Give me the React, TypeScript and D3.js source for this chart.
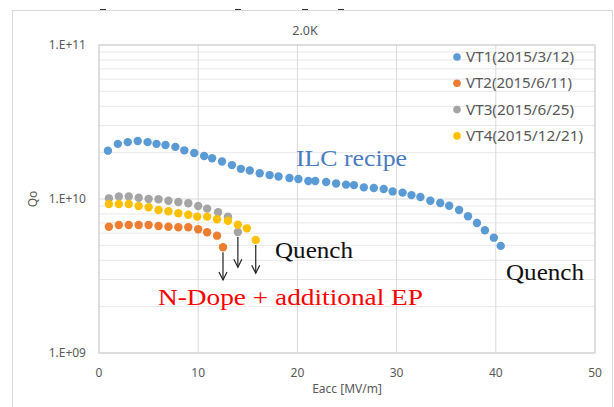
import React from "react";
import * as d3 from "d3";

const W = 614;
const H = 407;

// Eacc [MV/m] and Qo per test
const vt1E = [0.9, 1.9, 2.9, 3.9, 4.9, 5.8, 6.7, 7.7, 8.6, 9.6, 10.6, 11.4, 12.4, 13.4, 14.3, 15.2, 16.2, 17.2, 18.1, 19.2, 20.1, 21.1, 21.8, 22.9, 23.9, 24.9, 25.7, 26.7, 27.7, 28.7, 29.6, 30.6, 31.5, 32.4, 33.4, 34.4, 35.3, 36.3, 37.2, 38.1, 38.9, 39.8, 40.5];
const vt1Q = [2.06e10, 2.28e10, 2.34e10, 2.38e10, 2.34e10, 2.28e10, 2.24e10, 2.18e10, 2.07e10, 1.99e10, 1.9e10, 1.84e10, 1.75e10, 1.66e10, 1.57e10, 1.53e10, 1.47e10, 1.43e10, 1.4e10, 1.37e10, 1.35e10, 1.31e10, 1.31e10, 1.29e10, 1.26e10, 1.24e10, 1.23e10, 1.19e10, 1.18e10, 1.16e10, 1.12e10, 1.1e10, 1.06e10, 1.03e10, 9.75e9, 9.42e9, 9.04e9, 8.49e9, 7.72e9, 6.99e9, 6.27e9, 5.61e9, 4.96e9];

const vt2E = [1.0, 2.0, 3.0, 4.0, 5.0, 6.0, 7.0, 8.0, 9.0, 10.0, 10.9, 11.9, 12.5];
const vt2Q = [6.61e9, 6.78e9, 6.78e9, 6.78e9, 6.78e9, 6.68e9, 6.61e9, 6.55e9, 6.55e9, 6.36e9, 6.08e9, 5.78e9, 4.86e9];

const vt3E = [1.0, 2.0, 3.0, 4.0, 5.0, 6.0, 7.0, 8.0, 9.0, 10.0, 10.9, 12.0, 13.0, 14.0];
const vt3Q = [1.01e10, 1.04e10, 1.04e10, 1.02e10, 1.0e10, 9.96e9, 9.75e9, 9.57e9, 9.38e9, 9.01e9, 8.66e9, 8.2e9, 7.68e9, 6.11e9];

const vt4E = [1.0, 2.0, 3.0, 4.0, 5.0, 6.0, 7.0, 8.0, 9.0, 9.9, 10.9, 11.9, 13.0, 14.0, 14.9, 15.8];
const vt4Q = [9.29e9, 9.29e9, 9.29e9, 9.01e9, 8.84e9, 8.49e9, 8.32e9, 8.08e9, 7.91e9, 7.68e9, 7.68e9, 7.38e9, 7.23e9, 6.81e9, 6.45e9, 5.42e9];

const seriesNames = ["VT1(2015/3/12)", "VT2(2015/6/11)", "VT3(2015/6/25)", "VT4(2015/12/21)"];
const seriesColors = ["#5b9bd5", "#ed7d31", "#a5a5a5", "#ffc000"];
const legendWidths = [108, 106, 108, 117];
const xTicks = [0, 10, 20, 30, 40, 50];
const yTicks = [1e9, 1e10, 1e11];
const yTickLabels = ["1.E+09", "1.E+10", "1.E+11"];
// quench arrows end (Qo) for VT2, VT3, VT4
const arrowEnds = [2.98e9, 3.61e9, 3.3e9];

const App = () => {
  const x = d3.scaleLinear().domain([0, 50]).range([99, 595]);
  const y = d3.scaleLog().domain([1e9, 1e11]).range([353, 45]);

  const series = [
    { e: vt1E, q: vt1Q },
    { e: vt2E, q: vt2Q },
    { e: vt3E, q: vt3Q },
    { e: vt4E, q: vt4Q },
  ];

  const minorY: number[] = [];
  [1e9, 1e10].forEach(d => {
    for (let k = 2; k <= 9; k++) minorY.push(d * k);
  });

  const axisFont = "'Noto Sans', 'Liberation Sans', sans-serif";
  const serif = "'Liberation Serif', 'Times New Roman', serif";

  return (
    <svg width={W} height={H} style={{ position: "absolute", left: 0, top: 0, background: "#fff" }}>
      <rect x={0} y={0} width={W} height={H} fill="#fff" />
      {/* cut-off remnants at the top */}
      {[100, 235, 302, 338].map(px => (
        <rect key={px} x={px} y={9} width={6} height={2} fill="#333" />
      ))}
      <rect x={12.5} y={10.5} width={600} height={400} fill="none" stroke="#d9d9d9" />

      {/* minor horizontal grid */}
      {minorY.map(v => (
        <line key={v} x1={x(0)} x2={x(50)} y1={y(v)} y2={y(v)} stroke="#e8e8e8" />
      ))}
      {/* major grid */}
      {yTicks.map(v => (
        <line key={v} x1={x(0)} x2={x(50)} y1={y(v)} y2={y(v)} stroke="#d9d9d9" />
      ))}
      {xTicks.map(v => (
        <line key={v} x1={x(v)} x2={x(v)} y1={y(1e11)} y2={y(1e9)} stroke="#d9d9d9" />
      ))}
      <rect x={x(0)} y={y(1e11)} width={x(50) - x(0)} height={y(1e9) - y(1e11)} fill="none" stroke="#d0d0d0" />

      {/* title */}
      <text x={305} y={35} textAnchor="middle" fontFamily={axisFont} fontSize={12.5} fill="#595959">2.0K</text>

      {/* y tick labels */}
      {yTicks.map((v, i) => (
        <text key={v} x={86} y={y(v) + 4} textAnchor="end" fontFamily={axisFont} fontSize={12} fill="#595959">
          {yTickLabels[i]}
        </text>
      ))}
      <text transform={`translate(37,${y(1e10)}) rotate(-90)`} textAnchor="middle" fontFamily={axisFont} fontSize={12} fill="#595959">Qo</text>

      {/* x tick labels */}
      {xTicks.map(v => (
        <text key={v} x={x(v)} y={377} textAnchor="middle" fontFamily={axisFont} fontSize={12} fill="#595959">{v}</text>
      ))}
      <text x={(x(0) + x(50)) / 2} y={393} textAnchor="middle" fontFamily={axisFont} fontSize={12} fill="#595959">Eacc [MV/m]</text>

      {/* points */}
      {series.map((s, si) =>
        s.e.map((e, i) => (
          <circle key={`${si}-${i}`} cx={x(e)} cy={y(s.q[i])} r={4.2} fill={seriesColors[si]} />
        ))
      )}

      {/* quench arrows */}
      {series.slice(1).map((s, i) => {
        const last = s.e.length - 1;
        const ax = x(s.e[last]);
        const y0 = y(s.q[last]) + 5;
        const y1 = y(arrowEnds[i]);
        return (
          <g key={i} stroke="#222" strokeWidth={1.2} fill="none">
            <line x1={ax} x2={ax} y1={y0} y2={y1} />
            <polyline points={`${ax - 4},${y1 - 8} ${ax},${y1} ${ax + 4},${y1 - 8}`} />
          </g>
        );
      })}

      {/* legend */}
      {seriesNames.map((n, i) => (
        <g key={n} transform={`translate(457,${57 + i * 26.3})`}>
          <circle cx={0} cy={0} r={3.8} fill={seriesColors[i]} />
          <text x={9} y={5} fontFamily={axisFont} fontSize={14} fill="#595959" textLength={legendWidths[i]} lengthAdjust="spacingAndGlyphs">{n}</text>
        </g>
      ))}

      {/* annotations */}
      <text x={296} y={166} fontFamily={serif} fontSize={23} fill="#4a7cc0" textLength={111} lengthAdjust="spacingAndGlyphs">ILC recipe</text>
      <text x={275} y={258} fontFamily={serif} fontSize={23} fill="#111" textLength={78} lengthAdjust="spacingAndGlyphs">Quench</text>
      <text x={506} y={280} fontFamily={serif} fontSize={23} fill="#111" textLength={78} lengthAdjust="spacingAndGlyphs">Quench</text>
      <text x={158} y={305} fontFamily={serif} fontSize={23} fill="#ff0000" textLength={265} lengthAdjust="spacingAndGlyphs">N-Dope + additional EP</text>
    </svg>
  );
};

export default App;
